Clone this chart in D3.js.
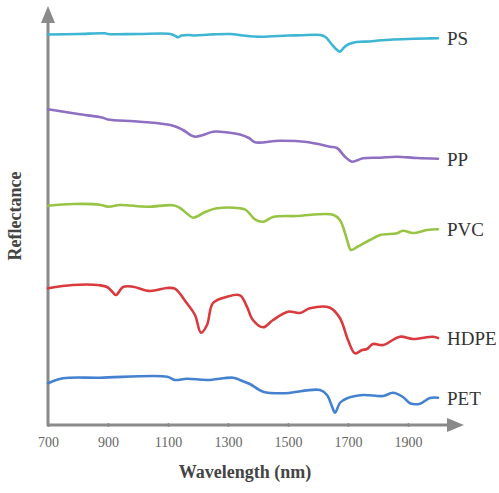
<!DOCTYPE html>
<html>
<head>
<meta charset="utf-8">
<script src="https://cdn.jsdelivr.net/npm/d3@7"></script>
<style>
  body { margin: 0; background: #fff; }
  text { font-family: "Liberation Serif", "Times New Roman", serif; }
</style>
</head>
<body>
<script>
// spectra, stacked with an offset (arbitrary reflectance units)
var xTicks = [700, 900, 1100, 1300, 1500, 1700, 1900];

var psData = [[700,390.5],[800,391],[890,391.7],[900,391],[1000,391],[1107,391],[1125,389],[1133,387.7],[1145,389.5],[1170,390],[1190,389.5],[1240,390.5],[1307,391],[1350,389.5],[1407,388.3],[1500,389.5],[1540,389.7],[1607,390],[1625,388],[1645,381],[1660,376],[1673,373.3],[1685,377],[1700,380.5],[1720,382.5],[1740,383.3],[1773,383.5],[1800,384.5],[1840,385.3],[1900,386],[1960,386.5],[2000,386.7]];

var ppData = [[700,315.7],[800,311],[883,307.3],[900,305.5],[1007,303.3],[1117,299.3],[1150,295],[1175,290],[1190,288.3],[1217,290],[1250,293.3],[1300,292.5],[1340,290.5],[1370,287],[1390,282.7],[1473,284.3],[1563,283],[1640,278.3],[1663,277],[1690,268.3],[1713,263.3],[1750,266.7],[1807,267.3],[1863,268.3],[1930,267],[2000,266.3]];

var pvcData = [[700,219.3],[783,221],[873,220.3],[900,218.3],[940,220],[1030,218.3],[1117,219.7],[1140,217],[1165,211],[1183,207.3],[1200,209],[1217,212],[1263,216.7],[1340,216.7],[1360,215],[1390,205.7],[1417,203.3],[1450,208],[1530,209],[1650,210.3],[1673,205],[1690,192],[1697,185],[1710,175],[1730,178],[1773,185],[1807,190],[1863,191.7],[1883,194.3],[1917,192],[1963,195],[2000,195.7]];

var hdpeData = [[700,136.7],[783,140],[873,139.7],[897,138],[915,133],[927,130],[950,138],[983,138.3],[1040,134],[1097,137],[1123,136.3],[1163,121.7],[1190,110],[1210,92.3],[1230,100],[1250,122],[1297,128.3],[1340,129.7],[1363,118.3],[1383,105],[1417,97.7],[1450,105],[1500,113.3],[1540,112],[1573,116.7],[1640,117.3],[1673,107],[1700,85],[1723,71.7],[1747,75],[1763,76],[1783,81],[1817,80],[1873,88.3],[1917,86],[1983,88.3],[2000,87]];

var petData = [[700,41.7],[750,46.7],[873,47.3],[1097,48.3],[1123,45],[1163,46.3],[1230,45],[1317,47.3],[1340,45],[1373,41],[1417,33.3],[1483,31.7],[1607,35],[1630,30],[1647,18.3],[1657,12.3],[1673,22],[1697,26.7],[1750,30],[1817,29],[1850,32.3],[1883,28],[1907,21.7],[1940,21.3],[1973,27],[2000,27.3]];

var seriesNames = ["PS", "PP", "PVC", "HDPE", "PET"];
var seriesData = [psData, ppData, pvcData, hdpeData, petData];
var seriesColors = ["#3db5d3", "#8f6fc2", "#97c444", "#d93a3d", "#4482d0"];

var w = 499, h = 493;

var svg = d3.select("body").append("svg")
    .attr("width", w)
    .attr("height", h);

var x = d3.scaleLinear().domain([700, 2000]).range([48, 438]);
var y = d3.scaleLinear().domain([0, 400]).range([425, 25]);

var axisColor = "#8a8a8a";

// axes with arrow heads
svg.append("line")
    .attr("x1", 48).attr("y1", 426)
    .attr("x2", 48).attr("y2", 20)
    .attr("stroke", axisColor).attr("stroke-width", 3);
svg.append("path")
    .attr("d", "M48,6 L41,23 L55,23 Z")
    .attr("fill", axisColor);

svg.append("line")
    .attr("x1", 47).attr("y1", 425)
    .attr("x2", 450).attr("y2", 425)
    .attr("stroke", axisColor).attr("stroke-width", 3);
svg.append("path")
    .attr("d", "M464,425 L447,418 L447,432 Z")
    .attr("fill", axisColor);

var xAxis = d3.axisBottom(x)
    .tickValues(xTicks)
    .tickFormat(d3.format("d"))
    .tickSizeInner(4)
    .tickSizeOuter(0)
    .tickPadding(10);

var gx = svg.append("g")
    .attr("transform", "translate(0,423)")
    .call(xAxis);
gx.select(".domain").remove();
gx.selectAll(".tick line")
    .attr("stroke", axisColor)
    .attr("stroke-width", 1.5);
gx.selectAll(".tick text")
    .attr("fill", "#666")
    .style("font-size", "14px")
    .style("font-family", "'Liberation Serif', serif");

// spectra
var line = d3.line()
    .x(function(d) { return x(d[0]); })
    .y(function(d) { return y(d[1]); })
    .curve(d3.curveCatmullRom.alpha(0.5));

for (var i = 0; i < seriesData.length; i++) {
    svg.append("path")
        .datum(seriesData[i])
        .attr("d", line)
        .attr("fill", "none")
        .attr("stroke", seriesColors[i])
        .attr("stroke-width", 2.6)
        .attr("stroke-linejoin", "round")
        .attr("stroke-linecap", "round");

    var last = seriesData[i][seriesData[i].length - 1];
    svg.append("text")
        .attr("x", x(last[0]) + 9)
        .attr("y", y(last[1]) + 7)
        .attr("fill", "#333")
        .style("font-size", "19px")
        .text(seriesNames[i]);
}

// axis titles
svg.append("text")
    .attr("x", 245)
    .attr("y", 478)
    .attr("text-anchor", "middle")
    .attr("fill", "#444")
    .style("font-size", "18px")
    .style("font-weight", "bold")
    .text("Wavelength (nm)");

svg.append("text")
    .attr("transform", "translate(21,216) rotate(-90)")
    .attr("text-anchor", "middle")
    .attr("fill", "#444")
    .style("font-size", "18px")
    .style("font-weight", "bold")
    .text("Reflectance");
</script>
</body>
</html>
